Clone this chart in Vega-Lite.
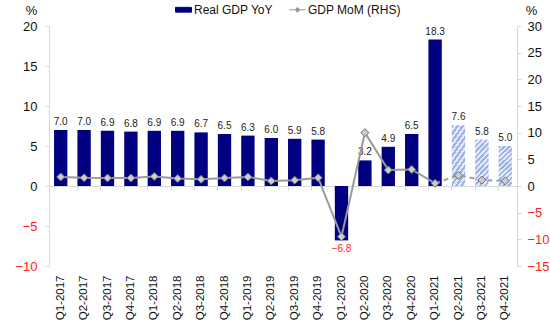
{
  "$schema": "https://vega.github.io/schema/vega-lite/v6.json",
  "width": 468,
  "height": 240,
  "autosize": {"type": "none"},
  "padding": {"left": 49, "top": 26, "right": 33, "bottom": 62},
  "background": "white",
  "config": {
    "font": "Liberation Sans",
    "view": {"stroke": null},
    "axis": {"grid": false, "domainColor": "#d9d9d9", "tickColor": "#d9d9d9", "labelColor": "#111111", "labelFont": "Liberation Sans", "labelOverlap": false}
  },
  "data": {
    "values": [
      {"q": "Q1-2017", "yoy": 7.0, "mom": 1.7, "fc": 0},
      {"q": "Q2-2017", "yoy": 7.0, "mom": 1.55, "fc": 0},
      {"q": "Q3-2017", "yoy": 6.9, "mom": 1.5, "fc": 0},
      {"q": "Q4-2017", "yoy": 6.8, "mom": 1.5, "fc": 0},
      {"q": "Q1-2018", "yoy": 6.9, "mom": 1.8, "fc": 0},
      {"q": "Q2-2018", "yoy": 6.9, "mom": 1.4, "fc": 0},
      {"q": "Q3-2018", "yoy": 6.7, "mom": 1.25, "fc": 0},
      {"q": "Q4-2018", "yoy": 6.5, "mom": 1.5, "fc": 0},
      {"q": "Q1-2019", "yoy": 6.3, "mom": 1.7, "fc": 0},
      {"q": "Q2-2019", "yoy": 6.0, "mom": 0.95, "fc": 0},
      {"q": "Q3-2019", "yoy": 5.9, "mom": 1.1, "fc": 0},
      {"q": "Q4-2019", "yoy": 5.8, "mom": 1.55, "fc": 0},
      {"q": "Q1-2020", "yoy": -6.8, "mom": -9.5, "fc": 0},
      {"q": "Q2-2020", "yoy": 3.2, "mom": 10.0, "fc": 0},
      {"q": "Q3-2020", "yoy": 4.9, "mom": 3.0, "fc": 0},
      {"q": "Q4-2020", "yoy": 6.5, "mom": 3.1, "fc": 0},
      {"q": "Q1-2021", "yoy": 18.3, "mom": 0.5, "fc": 0},
      {"q": "Q2-2021", "yoy": 7.6, "mom": 2.0, "fc": 1},
      {"q": "Q3-2021", "yoy": 5.8, "mom": 1.1, "fc": 1},
      {"q": "Q4-2021", "yoy": 5.0, "mom": 0.95, "fc": 1}
    ]
  },
  "resolve": {"scale": {"y": "independent"}, "axis": {"x": "independent"}},
  "layer": [
    {
      "encoding": {
        "x": {
          "field": "q", "type": "nominal", "sort": null,
          "scale": {"paddingInner": 0.43},
          "axis": {"orient": "bottom", "title": null, "labels": false, "offset": -80, "domain": true, "domainColor": "#d9d9d9", "ticks": true, "tickSize": 4, "bandPosition": 0, "tickExtra": true}
        },
        "y": {
          "field": "yoy", "type": "quantitative",
          "scale": {"domain": [-10, 20], "nice": false},
          "axis": {
            "title": "%", "titleAngle": 0, "titleX": -18, "titleY": -16, "titleAlign": "center", "titleBaseline": "middle",
            "titleFontSize": 13, "titleFontWeight": "normal", "titleColor": "#111111",
            "values": [-10, -5, 0, 5, 10, 15, 20], "tickSize": 4, "labelPadding": 8, "labelFontSize": 13, "labelOverlap": false, "labelFlush": false,
            "labelColor": {"condition": {"test": "datum.value < 0", "value": "#ff2020"}, "value": "#111111"}
          }
        }
      },
      "layer": [
        {
          "transform": [{"filter": "datum.fc == 0"}],
          "mark": {"type": "bar", "color": "#000080"},
          "encoding": {
            "color": {"datum": "Real GDP YoY", "type": "nominal",
              "scale": {"domain": ["Real GDP YoY", "GDP MoM (RHS)"], "range": ["#000080", "#9a9a9a"]},
              "legend": {
                "title": null, "orient": "none", "direction": "horizontal", "legendX": 126, "legendY": -25,
                "labelFontSize": 12, "labelColor": "#111111", "labelOffset": 2, "columnPadding": 14,
                "symbolSize": 256,
                "encode": {
                  "symbols": {
                    "update": {
                      "shape": {"signal": "datum.value === 'Real GDP YoY' ? 'M-1,-0.3H1V0.3H-1Z' : 'M-1,0H-0.3M0.3,0H1M0,-0.3L0.3,0L0,0.3L-0.3,0Z'"},
                      "size": {"value": 256},
                      "fill": {"signal": "datum.value === 'Real GDP YoY' ? '#000080' : '#d0d0d0'"},
                      "stroke": {"signal": "datum.value === 'Real GDP YoY' ? '#000080' : '#777777'"},
                      "strokeWidth": {"value": 1},
                      "opacity": {"value": 1}
                    }
                  }
                }
              }
            }
          }
        },
        {
          "transform": [{"filter": "datum.fc == 1"}],
          "mark": {
            "type": "bar",
            "fill": {
              "gradient": "linear", "x1": 0, "y1": 0, "x2": 0.4, "y2": 1.3,
              "stops": [
                {"offset": 0, "color": "#9db2e6"}, {"offset": 0.041667, "color": "#9db2e6"}, {"offset": 0.041667, "color": "#e3e9f8"}, {"offset": 0.083333, "color": "#e3e9f8"},
                {"offset": 0.083333, "color": "#9db2e6"}, {"offset": 0.125, "color": "#9db2e6"}, {"offset": 0.125, "color": "#e3e9f8"}, {"offset": 0.166667, "color": "#e3e9f8"},
                {"offset": 0.166667, "color": "#9db2e6"}, {"offset": 0.208333, "color": "#9db2e6"}, {"offset": 0.208333, "color": "#e3e9f8"}, {"offset": 0.25, "color": "#e3e9f8"},
                {"offset": 0.25, "color": "#9db2e6"}, {"offset": 0.291667, "color": "#9db2e6"}, {"offset": 0.291667, "color": "#e3e9f8"}, {"offset": 0.333333, "color": "#e3e9f8"},
                {"offset": 0.333333, "color": "#9db2e6"}, {"offset": 0.375, "color": "#9db2e6"}, {"offset": 0.375, "color": "#e3e9f8"}, {"offset": 0.416667, "color": "#e3e9f8"},
                {"offset": 0.416667, "color": "#9db2e6"}, {"offset": 0.458333, "color": "#9db2e6"}, {"offset": 0.458333, "color": "#e3e9f8"}, {"offset": 0.5, "color": "#e3e9f8"},
                {"offset": 0.5, "color": "#9db2e6"}, {"offset": 0.541667, "color": "#9db2e6"}, {"offset": 0.541667, "color": "#e3e9f8"}, {"offset": 0.583333, "color": "#e3e9f8"},
                {"offset": 0.583333, "color": "#9db2e6"}, {"offset": 0.625, "color": "#9db2e6"}, {"offset": 0.625, "color": "#e3e9f8"}, {"offset": 0.666667, "color": "#e3e9f8"},
                {"offset": 0.666667, "color": "#9db2e6"}, {"offset": 0.708333, "color": "#9db2e6"}, {"offset": 0.708333, "color": "#e3e9f8"}, {"offset": 0.75, "color": "#e3e9f8"},
                {"offset": 0.75, "color": "#9db2e6"}, {"offset": 0.791667, "color": "#9db2e6"}, {"offset": 0.791667, "color": "#e3e9f8"}, {"offset": 0.833333, "color": "#e3e9f8"},
                {"offset": 0.833333, "color": "#9db2e6"}, {"offset": 0.875, "color": "#9db2e6"}, {"offset": 0.875, "color": "#e3e9f8"}, {"offset": 0.916667, "color": "#e3e9f8"},
                {"offset": 0.916667, "color": "#9db2e6"}, {"offset": 0.958333, "color": "#9db2e6"}, {"offset": 0.958333, "color": "#e3e9f8"}, {"offset": 1, "color": "#e3e9f8"}
              ]
            }
          }
        },
        {
          "transform": [{"filter": "datum.yoy >= 0"}],
          "mark": {"type": "text", "baseline": "bottom", "dy": -3, "fontSize": 10, "color": "#222222"},
          "encoding": {"text": {"field": "yoy", "type": "quantitative", "format": ".1f"}}
        },
        {
          "transform": [{"filter": "datum.yoy < 0"}],
          "mark": {"type": "text", "baseline": "top", "dy": 4, "fontSize": 10, "color": "#ff2020"},
          "encoding": {"text": {"field": "yoy", "type": "quantitative", "format": ".1f"}}
        }
      ]
    },
    {
      "encoding": {
        "x": {
          "field": "q", "type": "nominal", "sort": null,
          "axis": {"orient": "bottom", "title": null, "domain": false, "ticks": false, "labelAngle": -90, "labelFontSize": 11.5, "labelPadding": 9, "labelColor": "#111111"}
        },
        "y": {
          "field": "mom", "type": "quantitative",
          "scale": {"domain": [-15, 30], "nice": false},
          "axis": {
            "orient": "right", "title": "%", "titleAngle": 0, "titleX": 14, "titleY": -16, "titleAlign": "center", "titleBaseline": "middle",
            "titleFontSize": 13, "titleFontWeight": "normal", "titleColor": "#111111",
            "values": [-15, -10, -5, 0, 5, 10, 15, 20, 25, 30], "tickSize": 4, "labelPadding": 6, "labelFontSize": 13, "labelOverlap": false, "labelFlush": false,
            "labelColor": {"condition": {"test": "datum.value < 0", "value": "#ff2020"}, "value": "#111111"}
          }
        }
      },
      "layer": [
        {
          "transform": [{"filter": "datum.fc == 0"}],
          "mark": {"type": "line", "color": "#a0a0a0", "strokeWidth": 2},
          "encoding": {
            "color": {"datum": "GDP MoM (RHS)", "type": "nominal"}
          }
        },
        {
          "transform": [{"filter": "datum.fc == 1 || datum.q == 'Q1-2021'"}],
          "mark": {"type": "line", "color": "#a0a0a0", "strokeWidth": 2, "strokeDash": [5, 4]}
        },
        {
          "mark": {"type": "point", "shape": "diamond", "filled": true, "size": 64, "fill": "#cccccc", "stroke": "#6e6e6e", "strokeWidth": 1, "opacity": 1}
        }
      ]
    }
  ]
}
